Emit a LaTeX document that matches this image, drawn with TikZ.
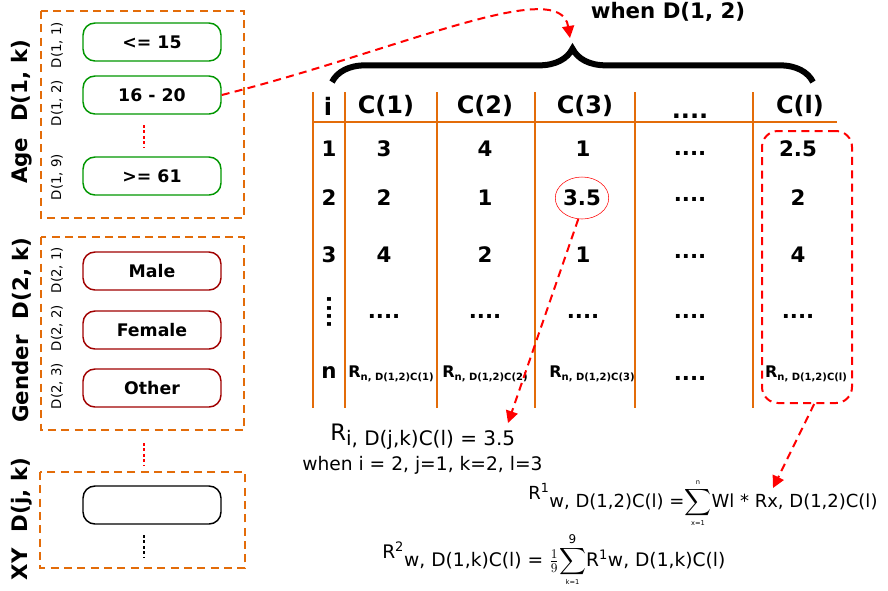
\documentclass[tikz,border=0pt]{standalone}
\usepackage{fontspec}
\setmainfont{DejaVu Sans}
\usetikzlibrary{decorations.pathreplacing,arrows.meta,shapes.geometric,calc}

\definecolor{tblorange}{RGB}{227,108,9}
\definecolor{agegreen}{RGB}{0,150,0}
\definecolor{gendred}{RGB}{160,0,0}

\newcommand{\Rlift}[1]{\raisebox{5.5pt}{R\textsuperscript{#1}}}
\newcommand{\bigsum}[2]{\ensuremath{\mathop{\vcenter{\hbox{\scalebox{1.4}{$\displaystyle\sum$}}}}\limits_{\mbox{\tiny #1}}^{\mbox{\tiny #2}}}}

\begin{document}
\begin{tikzpicture}[x=0.75pt,y=-0.75pt,
  grpbox/.style={draw=tblorange,line width=1.8pt,dash pattern=on 6pt off 4pt},
  valbox/.style={draw,rounded corners=9pt,line width=1.1pt,minimum width=103.5pt,minimum height=28.5pt,font=\bfseries\fontsize{13}{15}\selectfont},
  grplabel/.style={rotate=90,font=\bfseries\fontsize{16}{18}\selectfont},
  keylabel/.style={rotate=90,font=\fontsize{10}{12}\selectfont},
  tblline/.style={draw=tblorange,line width=1.5pt},
  tblhead/.style={font=\bfseries\fontsize{18}{20}\selectfont},
  tblcell/.style={font=\bfseries\fontsize{16}{18}\selectfont},
  tblrn/.style={font=\bfseries\fontsize{12}{14}\selectfont},
  redline/.style={red,line width=1.5pt,dash pattern=on 6pt off 4pt},
  redarrow/.style={redline,-{Triangle[length=9pt,width=9pt]}},
  formula/.style={font=\fontsize{14}{16}\selectfont,inner sep=0pt}]
\useasboundingbox (0,0) rectangle (888,590);

% attribute groups
\draw[grpbox] (41,11) rectangle (244,218);
\draw[grpbox] (41,237) rectangle (244,430);
\draw[grpbox] (40,472) rectangle (245,568);

\node[grplabel] (agelab) at (22,112) {Age\hspace{0.4em} D(1, k)};
\node[grplabel] (genlab) at (22,330) {Gender\hspace{0.4em} D(2, k)};
\node[grplabel] (xylab) at (22,519) {XY\hspace{0.4em} D(j, k)};

\node[keylabel] (k11) at (57,45) {D(1, 1)};
\node[keylabel] (k12) at (57,103) {D(1, 2)};
\node[keylabel] (k19) at (57,177) {D(1, 9)};
\node[keylabel] (k21) at (57,270) {D(2, 1)};
\node[keylabel] (k22) at (57,328) {D(2, 2)};
\node[keylabel] (k23) at (57,386) {D(2, 3)};

\node[valbox,draw=agegreen] (b15) at (152,42) {<= 15};
\node[valbox,draw=agegreen] (b1620) at (152,95) {16 - 20};
\node[valbox,draw=agegreen] (b61) at (152,176) {>= 61};
\node[valbox,draw=gendred] (bmale) at (152,271) {Male};
\node[valbox,draw=gendred] (bfemale) at (152,330) {Female};
\node[valbox,draw=gendred] (bother) at (152,388) {Other};
\node[valbox,draw=black] (bxy) at (152,505) {};

\draw[red,line width=2.2pt,dash pattern=on 2.2pt off 1.9pt] (144,125) -- (144,147);
\draw[red,line width=2.2pt,dash pattern=on 2.2pt off 1.9pt] (144,443) -- (144,465);
\draw[black,line width=2.2pt,dash pattern=on 2.2pt off 1.9pt] (144,535) -- (144,557);

% table
\foreach \x in {313,345,437,535,635,753}
  \draw[tblline] (\x,92) -- (\x,408);
\draw[tblline] (313,122) -- (837,122);

\node[tblhead] (hi) at (328,106) {i};
\node[tblhead] (hc1) at (386,106) {C(1)};
\node[tblhead] (hc2) at (485,106) {C(2)};
\node[tblhead] (hc3) at (585,106) {C(3)};
\node[tblhead] (hdots) at (690,116) {....};
\node[tblhead] (hcl) at (800,106) {C(l)};

\node[tblcell] (i1) at (329,149) {1};
\node[tblcell] (c1r1) at (384,149) {3};
\node[tblcell] (c2r1) at (485,149) {4};
\node[tblcell] (c3r1) at (583,149) {1};
\node[tblcell] (dr1) at (690,153) {....};
\node[tblcell] (clr1) at (798,149) {2.5};

\node[tblcell] (i2) at (329,198) {2};
\node[tblcell] (c1r2) at (384,198) {2};
\node[tblcell] (c2r2) at (485,198) {1};
\node[tblcell,ellipse,draw=red,thin,inner sep=0pt,minimum width=37.5pt,minimum height=31.5pt] (c3r2) at (582,198) {3.5};
\node[tblcell] (dr2) at (690,199) {....};
\node[tblcell] (clr2) at (798,198) {2};

\node[tblcell] (i3) at (329,255) {3};
\node[tblcell] (c1r3) at (384,255) {4};
\node[tblcell] (c2r3) at (485,255) {2};
\node[tblcell] (c3r3) at (583,255) {1};
\node[tblcell] (dr3) at (690,256) {....};
\node[tblcell] (clr3) at (798,255) {4};

\node[tblcell,rotate=90] (idots) at (329,312) {....};
\node[tblcell] (c1dots) at (384,316) {....};
\node[tblcell] (c2dots) at (485,316) {....};
\node[tblcell] (c3dots) at (583,316) {....};
\node[tblcell] (ddots) at (690,316) {....};
\node[tblcell] (cldots) at (798,316) {....};

\node[tblcell] (in) at (329,373) {n};
\node[tblrn] (c1rn) at (391,374) {R\raisebox{-2pt}{\fontsize{7.5}{8}\selectfont n, D(1,2)C(1)}};
\node[tblrn] (c2rn) at (485,374) {R\raisebox{-2pt}{\fontsize{7.5}{8}\selectfont n, D(1,2)C(2)}};
\node[tblrn] (c3rn) at (592,374) {R\raisebox{-2pt}{\fontsize{7.5}{8}\selectfont n, D(1,2)C(3)}};
\node[tblcell] (drn) at (690,378) {....};
\node[tblrn] (clrn) at (806,374) {R\raisebox{-2pt}{\fontsize{7.5}{8}\selectfont n, D(1,2)C(l)}};

\node[redline,draw,rounded corners=12pt,minimum width=67.5pt,minimum height=204pt] (clcol) at (807,267) {};

% brace over the columns
\draw[decorate,decoration={brace,amplitude=25pt},line width=4.5pt] (332,82) -- (813,82);
\coordinate (bracetip) at (570,38);
\node[font=\bfseries\fontsize{16}{18}\selectfont] (whenlab) at (668,12) {when D(1, 2)};

% formulas
\node[formula,anchor=base west,font=\fontsize{15}{17}\selectfont] (rform) at (330,445) {{\fontsize{17}{17}\selectfont\raisebox{3.5pt}{R}}i, D(j,k)C(l) = 3.5};
\node[formula,anchor=base west] (whenform) at (302,470) {when i = 2, j=1, k=2, l=3};
\node[formula,anchor=base west,font=\fontsize{13.5}{16}\selectfont] (r1form) at (528,507) {\Rlift{1}w, D(1,2)C(l) =\bigsum{x=1}{n}Wl * Rx, D(1,2)C(l)};
\node[formula,anchor=base west] (r2form) at (382,566) {\Rlift{2}w, D(1,k)C(l) = $\frac{1}{9}$\bigsum{k=1}{\small 9}R\textsuperscript{1}w, D(1,k)C(l)};
\coordinate (ritip) at (508,423);
\coordinate (rxtip) at (773,488);

% connectors
\draw[redarrow] (b1620.east) .. controls (400,50) and (560,-25) .. (bracetip);
\draw[redarrow] (c3r2.260) -- (ritip);
\draw[redarrow] (clcol.-87) -- (rxtip);
\end{tikzpicture}
\end{document}
